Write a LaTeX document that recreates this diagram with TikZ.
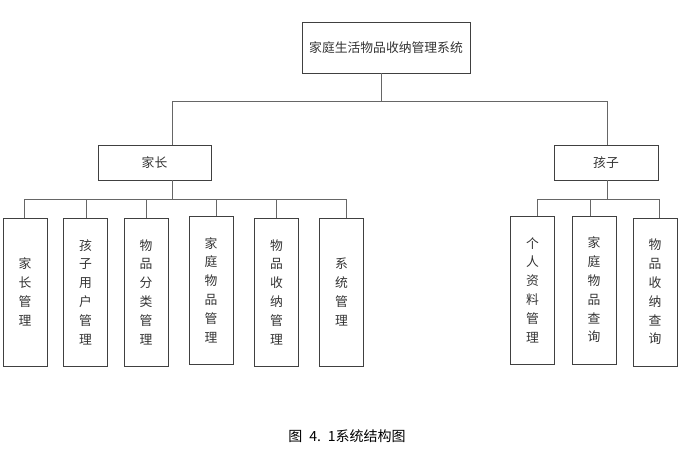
\documentclass[tikz,border=0pt]{standalone}
\usepackage{fontspec}
\newfontfamily\cjk{Noto Sans CJK SC}
\usetikzlibrary{positioning}

\begin{document}
\begin{tikzpicture}[x=1pt,y=-1pt,
  box/.style={draw=black!75,line width=0.8pt,inner sep=0pt,align=center,text=black!80,font=\cjk\fontsize{12.8}{18.8}\selectfont},
  leaf/.style={box,minimum width=44,minimum height=148},
  link/.style={draw=black!60,line width=0.8pt}]
  \useasboundingbox (0,0) rectangle (680,463);
  % root
  \node[box,minimum width=168,minimum height=51] (sys) at (386,47.5) {家庭生活物品收纳管理系统};
  \coordinate (rootj) at (381,101);
  \node[box,minimum width=113,minimum height=35] (jz) at (154.5,162.5) {家长};
  \node[box,minimum width=104,minimum height=35] (hz) at (606,162.5) {孩子};
  \draw[link] (sys.south -| rootj) -- (rootj);
  \draw[link] ([xshift=17.5pt]jz.north) |- (rootj);
  \draw[link] ([xshift=1pt]hz.north) |- (rootj);
  % parent branch
  \coordinate (jzbar) at (172,199);
  \draw[link] ([xshift=17.5pt]jz.south) -- (jzbar);
  \node[leaf] (j1) at (25,292) {家\\长\\管\\理};
  \node[leaf] (j2) at (85.5,292) {孩\\子\\用\\户\\管\\理};
  \node[leaf] (j3) at (146,292) {物\\品\\分\\类\\管\\理};
  \node[leaf] (j4) at (211,290) {家\\庭\\物\\品\\管\\理};
  \node[leaf] (j5) at (276.5,292) {物\\品\\收\\纳\\管\\理};
  \node[leaf] (j6) at (341.5,292) {系\\统\\管\\理};
  \foreach \n/\d in {j1/-1,j2/0.5,j3/0,j4/5,j5/-0.5,j6/4.5}
    \draw[link] ([xshift=\d pt]\n.north) |- (jzbar);
  % child branch
  \coordinate (hzbar) at (607,199);
  \draw[link] ([xshift=1pt]hz.south) -- (hzbar);
  \node[leaf] (k1) at (532.5,290) {个\\人\\资\\料\\管\\理};
  \node[leaf] (k2) at (594,290) {家\\庭\\物\\品\\查\\询};
  \node[leaf] (k3) at (655,292) {物\\品\\收\\纳\\查\\询};
  \foreach \n/\d in {k1/4.5,k2/-4,k3/4}
    \draw[link] ([xshift=\d pt]\n.north) |- (hzbar);
  % caption
  \node[text=black,font=\cjk\fontsize{14}{16}\selectfont] (cap) at (347,436) {图\hspace{7pt}4.\hspace{7pt}1系统结构图};
\end{tikzpicture}
\end{document}
